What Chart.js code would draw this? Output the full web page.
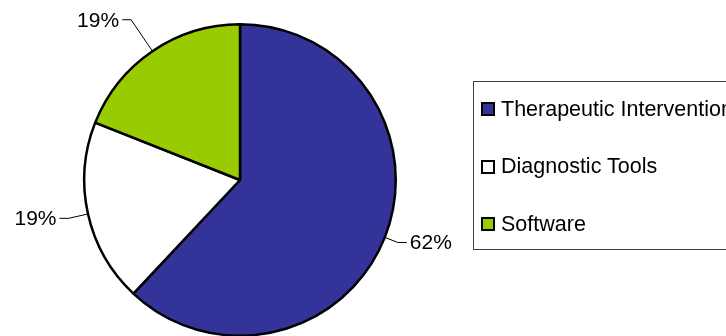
<!DOCTYPE html>
<html>
<head>
<meta charset="utf-8">
<script src="https://cdn.jsdelivr.net/npm/chart.js@4.4.0/dist/chart.umd.min.js"></script>
<style>
    html, body {
        margin: 0;
        padding: 0;
        width: 726px;
        height: 336px;
        overflow: hidden;
        background: #ffffff;
        font-family: 'Liberation Sans', Arial, sans-serif;
    }
    #wrap {
        position: relative;
        width: 726px;
        height: 336px;
        overflow: hidden;
    }
    #shareChart {
        position: absolute;
        left: 0;
        top: 0;
    }
    #legend {
        position: absolute;
        left: 473px;
        top: 81px;
        width: 300px;
        height: 169px;
        border: 1px solid #404040;
        box-sizing: border-box;
    }
    .legend-item {
        position: absolute;
        left: 7px;
        height: 24px;
        display: flex;
        align-items: center;
        white-space: nowrap;
        font-size: 21.5px;
        color: #000000;
    }
    .legend-box {
        width: 10px;
        height: 10px;
        border: 2px solid #000000;
        margin-right: 6px;
    }
</style>
</head>
<body>
<div id="wrap">
    <canvas id="shareChart" width="726" height="340"></canvas>
    <div id="legend"></div>
</div>
<script>
const segments = ['Therapeutic Intervention', 'Diagnostic Tools', 'Software'];
const shares = [62, 19, 19];
const sliceColors = ['#333399', '#FFFFFF', '#99CC00'];

// how far each leader line reaches past the rim before turning horizontal
const leaderReach = [14, 20, 38];

const labelFont = "21px 'Liberation Sans', Arial, sans-serif";

// percentage labels with elbow leader lines
const leaderLabels = {
    id: 'leaderLabels',
    afterDatasetsDraw(chart) {
        const ctx = chart.ctx;
        const arcs = chart.getDatasetMeta(0).data;
        ctx.save();
        ctx.font = labelFont;
        ctx.fillStyle = '#000000';
        ctx.strokeStyle = '#000000';
        ctx.lineWidth = 1;
        ctx.textBaseline = 'middle';
        arcs.forEach((arc, i) => {
            const mid = (arc.startAngle + arc.endAngle) / 2;
            const r = arc.outerRadius;
            const cos = Math.cos(mid);
            const sin = Math.sin(mid);
            const x0 = arc.x + cos * r;
            const y0 = arc.y + sin * r;
            const x1 = arc.x + cos * (r + leaderReach[i]);
            const y1 = arc.y + sin * (r + leaderReach[i]);
            const dir = cos >= 0 ? 1 : -1;
            const x2 = x1 + dir * 9;
            ctx.beginPath();
            ctx.moveTo(x0, y0);
            ctx.lineTo(x1, y1);
            ctx.lineTo(x2, y1);
            ctx.stroke();
            ctx.textAlign = dir > 0 ? 'left' : 'right';
            ctx.fillText(shares[i] + '%', x2 + dir * 3, y1 + 1);
        });
        ctx.restore();
    }
};

const ctx = document.getElementById('shareChart').getContext('2d');

new Chart(ctx, {
    type: 'pie',
    data: {
        labels: segments,
        datasets: [{
            data: shares,
            backgroundColor: sliceColors,
            borderColor: '#000000',
            borderWidth: 2.5
        }]
    },
    options: {
        responsive: false,
        animation: false,
        layout: {
            padding: { left: 83, right: 329, top: 23, bottom: 3 }
        },
        plugins: {
            legend: { display: false },
            tooltip: { enabled: false }
        }
    },
    plugins: [leaderLabels]
});

// legend box on the right
const legend = document.getElementById('legend');
segments.forEach((name, i) => {
    const item = document.createElement('div');
    item.className = 'legend-item';
    item.style.top = (15 + i * 57.5) + 'px';
    const box = document.createElement('span');
    box.className = 'legend-box';
    box.style.background = sliceColors[i];
    const text = document.createElement('span');
    text.textContent = name;
    item.appendChild(box);
    item.appendChild(text);
    legend.appendChild(item);
});
</script>
</body>
</html>
